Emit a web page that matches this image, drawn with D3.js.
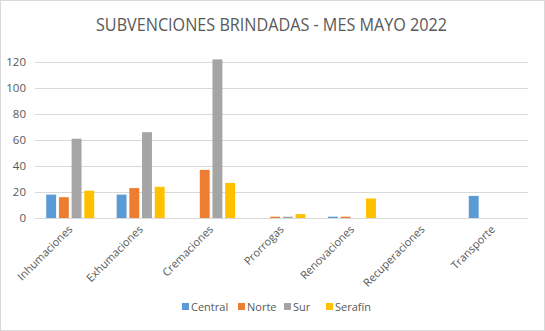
<!DOCTYPE html>
<html><head><meta charset="utf-8">
<script src="https://cdn.jsdelivr.net/npm/d3@7"></script>
<style>body{margin:0;background:#fff}svg{display:block}</style>
</head><body>
<script>
const categories = ["Inhumaciones","Exhumaciones","Cremaciones","Prorrogas","Renovaciones","Recuperaciones","Transporte"];
const seriesNames = ["Central","Norte","Sur","Serafín"];
const central = [18,18,0,0,1,0,17];
const norte   = [16,23,37,1,1,0,0];
const sur     = [61,66,122,1,0,0,0];
const serafin = [21,24,27,3,15,0,0];
const yTicks = [0,20,40,60,80,100,120];
const colors = ["#5B9BD5","#ED7D31","#A5A5A5","#FFC000"];
const seriesValues = [central,norte,sur,serafin];

(function(){
const W=545,H=331;
const svg=d3.select("body").append("svg").attr("width",W).attr("height",H);
svg.append("rect").attr("x",0.5).attr("y",0.5).attr("width",W-1).attr("height",H-1).attr("fill","#fff").attr("stroke","#D9D9D9");
const font="'Open Sans', 'Liberation Sans', sans-serif";
const pl=35,pr=528,pt=62,pb=218;
const x=d3.scaleBand().domain(categories).range([pl,pr]);
const y=d3.scaleLinear().domain([0,120]).range([pb,pt]);
const inner=d3.scaleBand().domain(seriesNames).range([0,48]).paddingInner(0.22);

svg.append("text").attr("x",96).attr("y",31)
 .attr("font-family",font).attr("font-size",18.5).attr("fill","#595959")
 .attr("textLength",351).attr("lengthAdjust","spacingAndGlyphs")
 .text("SUBVENCIONES BRINDADAS - MES MAYO 2022");

const g=svg.append("g");
g.selectAll(".grid").data(yTicks).join("line")
 .attr("x1",pl).attr("x2",pr).attr("y1",d=>Math.round(y(d))+0.5).attr("y2",d=>Math.round(y(d))+0.5)
 .attr("stroke","#D9D9D9").attr("stroke-width",1);
g.selectAll(".yl").data(yTicks).join("text")
 .attr("x",26).attr("y",d=>y(d)+4).attr("text-anchor","end")
 .attr("font-family",font).attr("font-size",11.5).attr("fill","#595959").text(d=>d);

seriesNames.forEach((s,si)=>{
  g.selectAll(".b"+si).data(categories.map((c,i)=>({c,v:seriesValues[si][i]}))).join("rect")
   .attr("x",d=>x(d.c)+x.bandwidth()/2-24+inner(s))
   .attr("width",inner.bandwidth())
   .attr("y",d=>y(d.v)).attr("height",d=>y(0)-y(d.v))
   .attr("fill",colors[si]);
});

g.selectAll(".xl").data(categories).join("text")
 .attr("transform",d=>`translate(${x(d)+x.bandwidth()/2+3},${pb+12}) rotate(-45)`)
 .attr("text-anchor","end").attr("font-family",font).attr("font-size",11).attr("fill","#595959")
 .text(d=>d);

const legX=[182,238,284,326];
const lg=svg.append("g");
seriesNames.forEach((s,i)=>{
  lg.append("rect").attr("x",legX[i]).attr("y",303).attr("width",7).attr("height",7).attr("fill",colors[i]);
  lg.append("text").attr("x",legX[i]+9).attr("y",310.5).attr("font-family",font).attr("font-size",11).attr("fill","#595959").text(s);
});
})();
</script>
</body></html>
